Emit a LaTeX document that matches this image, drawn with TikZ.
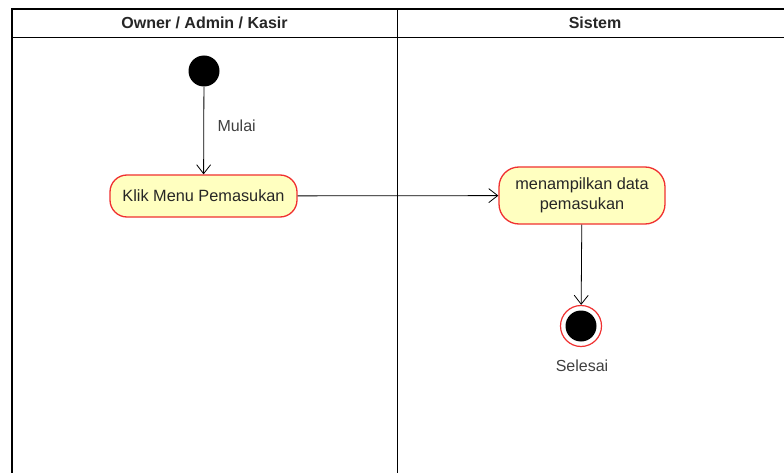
\documentclass[tikz,border=0pt]{standalone}
\usepackage{fontspec}
\setmainfont{Liberation Sans}
\usetikzlibrary{arrows.meta}
\definecolor{actfill}{HTML}{FFFFC0}
\definecolor{actline}{HTML}{F03030}
\begin{document}
\begin{tikzpicture}[x=1pt,y=-1pt,
  lane/.style={draw=black,line width=1.2pt},
  header/.style={font=\fontsize{16}{19}\selectfont\bfseries,text=black!85},
  action/.style={draw=actline,fill=actfill,rounded corners=17pt,line width=1.3pt,
    align=center,font=\fontsize{16.3}{20}\selectfont,text=black!85},
  flow/.style={draw=black,line width=0.8pt,-{Straight Barb[length=9pt,width=14pt]}},
  lbl/.style={font=\fontsize{16}{19}\selectfont,text=black!75}]
\useasboundingbox (0,0) rectangle (784,473);
\fill[white] (0,0) rectangle (784,473);
\begin{scope}
\clip (0,0) rectangle (784,473);
% swimlane frame
\draw[lane] (12,480) -- (12,9) -- (790,9);
\draw[draw=black,line width=0.9pt] (12,37) -- (790,37);
\draw[draw=black,line width=0.9pt] (397,9) -- (397,480);
\end{scope}
\node[header] (h1) at (204.5,23) {Owner / Admin / Kasir};
\node[header] (h2) at (595,23) {Sistem};
% start
\node[circle,fill=black,minimum size=31pt,inner sep=0pt] (start) at (204,71) {};
% actions
\node[action,minimum width=187pt,minimum height=42pt] (a1) at (203.5,196) {Klik Menu Pemasukan};
\node[action,minimum width=166pt,minimum height=57pt,rounded corners=20pt] (a2) at (582,195.5) {menampilkan data\\pemasukan};
% end
\node[circle,draw=actline,line width=1.2pt,fill=white,minimum size=41pt,inner sep=0pt] (end) at (581,326) {};
\node[circle,fill=black,minimum size=31pt,inner sep=0pt] (endin) at (end.center) {};
% flows
\draw[flow] (start) -- node[lbl,right=10pt,pos=0.45] {Mulai} (a1);
\draw[flow] (a1) -- (a2);
\draw[flow] (a2) -- (end);
\node[lbl] (sel) at (582,366) {Selesai};
\end{tikzpicture}
\end{document}
